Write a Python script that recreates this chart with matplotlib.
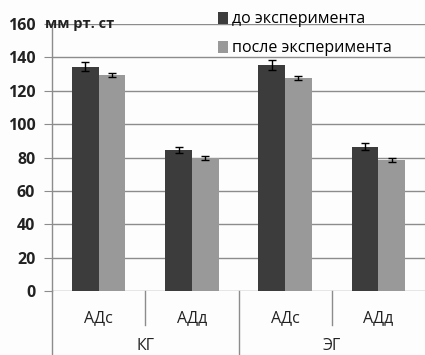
import matplotlib
matplotlib.use("Agg")
import matplotlib.pyplot as plt
import numpy as np

groups = ["КГ", "ЭГ"]
subcats = ["АДс", "АДд", "АДс", "АДд"]
before = [134.5, 84.5, 135.5, 86.5]
before_err = [2.5, 1.8, 3.0, 2.0]
after = [129.5, 79.5, 127.5, 78.5]
after_err = [1.3, 1.2, 1.3, 1.3]
series_names = ["до эксперимента", "после эксперимента"]

plt.rcParams['font.family'] = ['Open Sans', 'DejaVu Sans']

fig = plt.figure(figsize=(4.25, 3.55), dpi=100)
fig.patch.set_facecolor("#fdfdfd")
ax = fig.add_axes([52/425, 64/355, 373/425, 267/355])
ax.set_facecolor("#fdfdfd")

x = np.arange(len(subcats))
w = 0.286
ax.bar(x - w/2, before, w, color="#3c3c3c", label=series_names[0], zorder=3)
ax.bar(x + w/2, after, w, color="#999999", label=series_names[1], zorder=3)
ax.errorbar(x - w/2, before, yerr=before_err, fmt="none", ecolor="black",
            elinewidth=1, capsize=3, capthick=1, zorder=4)
ax.errorbar(x + w/2, after, yerr=after_err, fmt="none", ecolor="black",
            elinewidth=1, capsize=3, capthick=1, zorder=4)

ax.set_xlim(-0.5, 3.5)
ax.set_ylim(0, 160)
ax.set_yticks(np.arange(0, 161, 20))
ax.yaxis.grid(True, color="#8c8c8c", linewidth=1, zorder=0)
ax.tick_params(axis="y", length=6, color="#8c8c8c", labelsize=11.5, pad=6)
for lab in ax.get_yticklabels():
    lab.set_fontweight("bold")
    lab.set_color("#222222")
ax.set_xticks([])
for s in ["top", "right", "bottom"]:
    ax.spines[s].set_visible(False)
ax.spines["left"].set_color("#8c8c8c")
ax.spines["left"].set_linewidth(1)

# category separators and labels
trans = ax.get_xaxis_transform()
for xs, depth in [(-0.5, -0.24), (0.5, -0.127), (1.5, -0.24), (2.5, -0.127)]:
    ax.plot([xs, xs], [0, depth], color="#8c8c8c", lw=1, transform=trans, clip_on=False)
for i, s in enumerate(subcats):
    ax.text(i, -0.1, s, transform=trans, ha="center", va="center", fontsize=11.5, color="#222222")
for i, g in enumerate(groups):
    ax.text(0.5 + 2*i, -0.205, g, transform=trans, ha="center", va="center", fontsize=11.5, color="#222222")

fig.text(45/425, 1 - 24/355, "мм рт. ст", fontsize=10.5, fontweight="bold",
         ha="left", va="center", color="#222222")

ax.legend(loc="upper left", bbox_to_anchor=(0.445, 1.047), frameon=False,
          fontsize=11.5, handlelength=0.65, handleheight=0.8, handletextpad=0.2,
          labelspacing=0.8, borderaxespad=0, borderpad=0)

fig.savefig("out.png", dpi=100, facecolor=fig.get_facecolor())
